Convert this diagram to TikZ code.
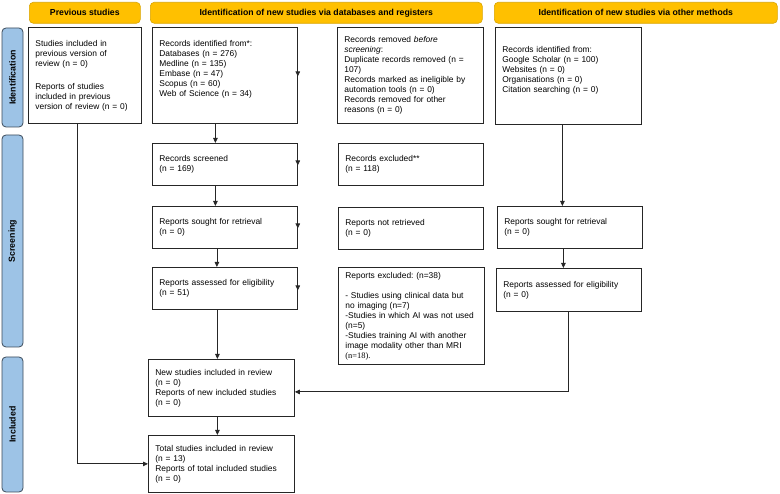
\documentclass[tikz,border=0pt]{standalone}
\usepackage{fontspec}
\setmainfont{Liberation Sans}
\newfontfamily\serifmr{Liberation Serif}
\usetikzlibrary{arrows.meta}
\definecolor{hdr}{HTML}{FFC000}
\definecolor{hdrline}{HTML}{D9A400}
\definecolor{phase}{HTML}{9DC3E6}
\definecolor{phaseline}{HTML}{3B4A5A}
\definecolor{ink}{HTML}{262626}
\frenchspacing
\begin{document}
\begin{tikzpicture}[x=1pt,y=-1pt,
  box/.style={draw=ink, line width=0.8pt, fill=white, inner xsep=7pt, inner ysep=2pt,
    align=left, anchor=north west, font=\fontsize{8.4}{10}\selectfont},
  hdrbox/.style={draw=hdrline, line width=0.6pt, fill=hdr, rounded corners=4pt,
    anchor=north west, font=\fontsize{8.7}{10}\selectfont\bfseries, inner sep=0pt},
  phasebox/.style={draw=phaseline, line width=0.8pt, fill=phase, rounded corners=4pt,
    rotate=90, font=\fontsize{8.8}{10}\selectfont\bfseries, inner sep=0pt},
  conn/.style={draw=ink, line width=0.8pt, -{Triangle[length=5pt,width=4.5pt]}},
  stub/.style={draw=ink, line width=0.8pt, -{Triangle[length=5pt,width=4.5pt]}}
]
\useasboundingbox (0,0) rectangle (780,494);

% headers
\node[hdrbox, minimum width=111pt, minimum height=21pt] (hprev) at (29,2) {Previous studies};
\node[hdrbox, minimum width=332pt, minimum height=21pt] (hdb) at (150,2) {Identification of new studies via databases and registers};
\node[hdrbox, minimum width=283pt, minimum height=21pt] (hoth) at (494,2) {Identification of new studies via other methods};

% phases
\node[phasebox, minimum width=99pt, minimum height=21pt] (pid) at (12.5,77.5) {Identification};
\node[phasebox, minimum width=212pt, minimum height=21pt] (pscr) at (12.5,241) {Screening};
\node[phasebox, minimum width=135pt, minimum height=21pt] (pinc) at (12.5,424.5) {Included};

% boxes
\node[box, text width=99pt, minimum height=96pt] (prev) at (28,27)
  {Studies included in\\ previous version of\\ review (n = 0)\\[13pt] Reports of studies\\ included in previous\\ version of review (n = 0)};
\node[box, text width=131pt, minimum height=96pt] (dbrec) at (152,27)
  {Records identified from*:\\ Databases (n = 276)\\ Medline (n = 135)\\ Embase (n = 47)\\ Scopus (n = 60)\\ Web of Science (n = 34)\\ \strut};
\node[box, text width=132pt, minimum height=96pt, inner ysep=4pt] (removed) at (337,27)
  {Records removed \textit{before}\\ \textit{screening}:\\ Duplicate records removed (n =\\ 107)\\ Records marked as ineligible by\\ automation tools (n = 0)\\ Records removed for other\\ reasons (n = 0)};
\node[box, text width=132pt, minimum height=97pt] (other) at (495,27)
  {Records identified from:\\ Google Scholar (n = 100)\\ Websites (n = 0)\\ Organisations (n = 0)\\ Citation searching (n = 0)\\ \strut};

\node[box, text width=131pt, minimum height=42pt] (screened) at (152,143)
  {Records screened\\ (n = 169)};
\node[box, text width=131pt, minimum height=42pt] (excl) at (338,143)
  {Records excluded**\\ (n = 118)};

\node[box, text width=131pt, minimum height=42pt] (sought) at (152,206)
  {Reports sought for retrieval\\ (n = 0)};
\node[box, text width=131pt, minimum height=42pt] (notret) at (338,207)
  {Reports not retrieved\\ (n = 0)};
\node[box, text width=131pt, minimum height=42pt] (soughto) at (497,206)
  {Reports sought for retrieval\\ (n = 0)};

\node[box, text width=131pt, minimum height=42pt] (assessed) at (152,267)
  {Reports assessed for eligibility\\ (n = 51)};
\node[box, text width=132pt, minimum height=97pt] (exrep) at (338,267)
  {Reports excluded: (n=38)\\[10pt] - Studies using clinical data but\\ no imaging (n=7)\\ -Studies in which AI was not used\\ (n=5)\\ -Studies training AI with another\\ image modality other than MRI\\ {\serifmr (n=18).}};
\node[box, text width=131pt, minimum height=43pt] (assessedo) at (496,268)
  {Reports assessed for eligibility\\ (n = 0)};

\node[box, text width=132pt, minimum height=57pt] (newst) at (148,359)
  {New studies included in review\\ (n = 0)\\ Reports of new included studies\\ (n = 0)};
\node[box, text width=132pt, minimum height=57pt] (total) at (148,435)
  {Total studies included in review\\ (n = 13)\\ Reports of total included studies\\ (n = 0)};

% connectors
\draw[conn] ([xshift=-7.5pt]prev.south) |- (total.west);
\draw[conn] ([xshift=-9.5pt]dbrec.south) -- ([xshift=-9.5pt]screened.north);
\draw[conn] ([xshift=-9.5pt]screened.south) -- ([xshift=-9.5pt]sought.north);
\draw[conn] ([xshift=-8pt]sought.south) -- ([xshift=-8pt]assessed.north);
\draw[conn] ([xshift=-7.5pt]assessed.south) -- ([xshift=-4pt]newst.north);
\draw[conn] ([xshift=-4pt]newst.south) -- ([xshift=-4pt]total.north);
\draw[conn] ([xshift=-6pt]other.south) -- ([xshift=-7.5pt]soughto.north);
\draw[conn] ([xshift=-6.5pt]soughto.south) -- ([xshift=-5.5pt]assessedo.north);
\coordinate (turn) at ([xshift=-0.5pt]assessedo.south);
\draw[conn] (turn) |- ([yshift=-4pt]newst.east);

% arrowhead stubs on the right edges
\draw[stub] ([yshift=4pt]dbrec.east) -- ([yshift=-1pt]dbrec.east);
\draw[stub] ([yshift=4pt]screened.east) -- ([yshift=-1pt]screened.east);
\draw[stub] ([yshift=4pt]sought.east) -- ([yshift=-1pt]sought.east);
\draw[stub] ([yshift=3pt]assessed.east) -- ([yshift=-2pt]assessed.east);
\end{tikzpicture}
\end{document}
